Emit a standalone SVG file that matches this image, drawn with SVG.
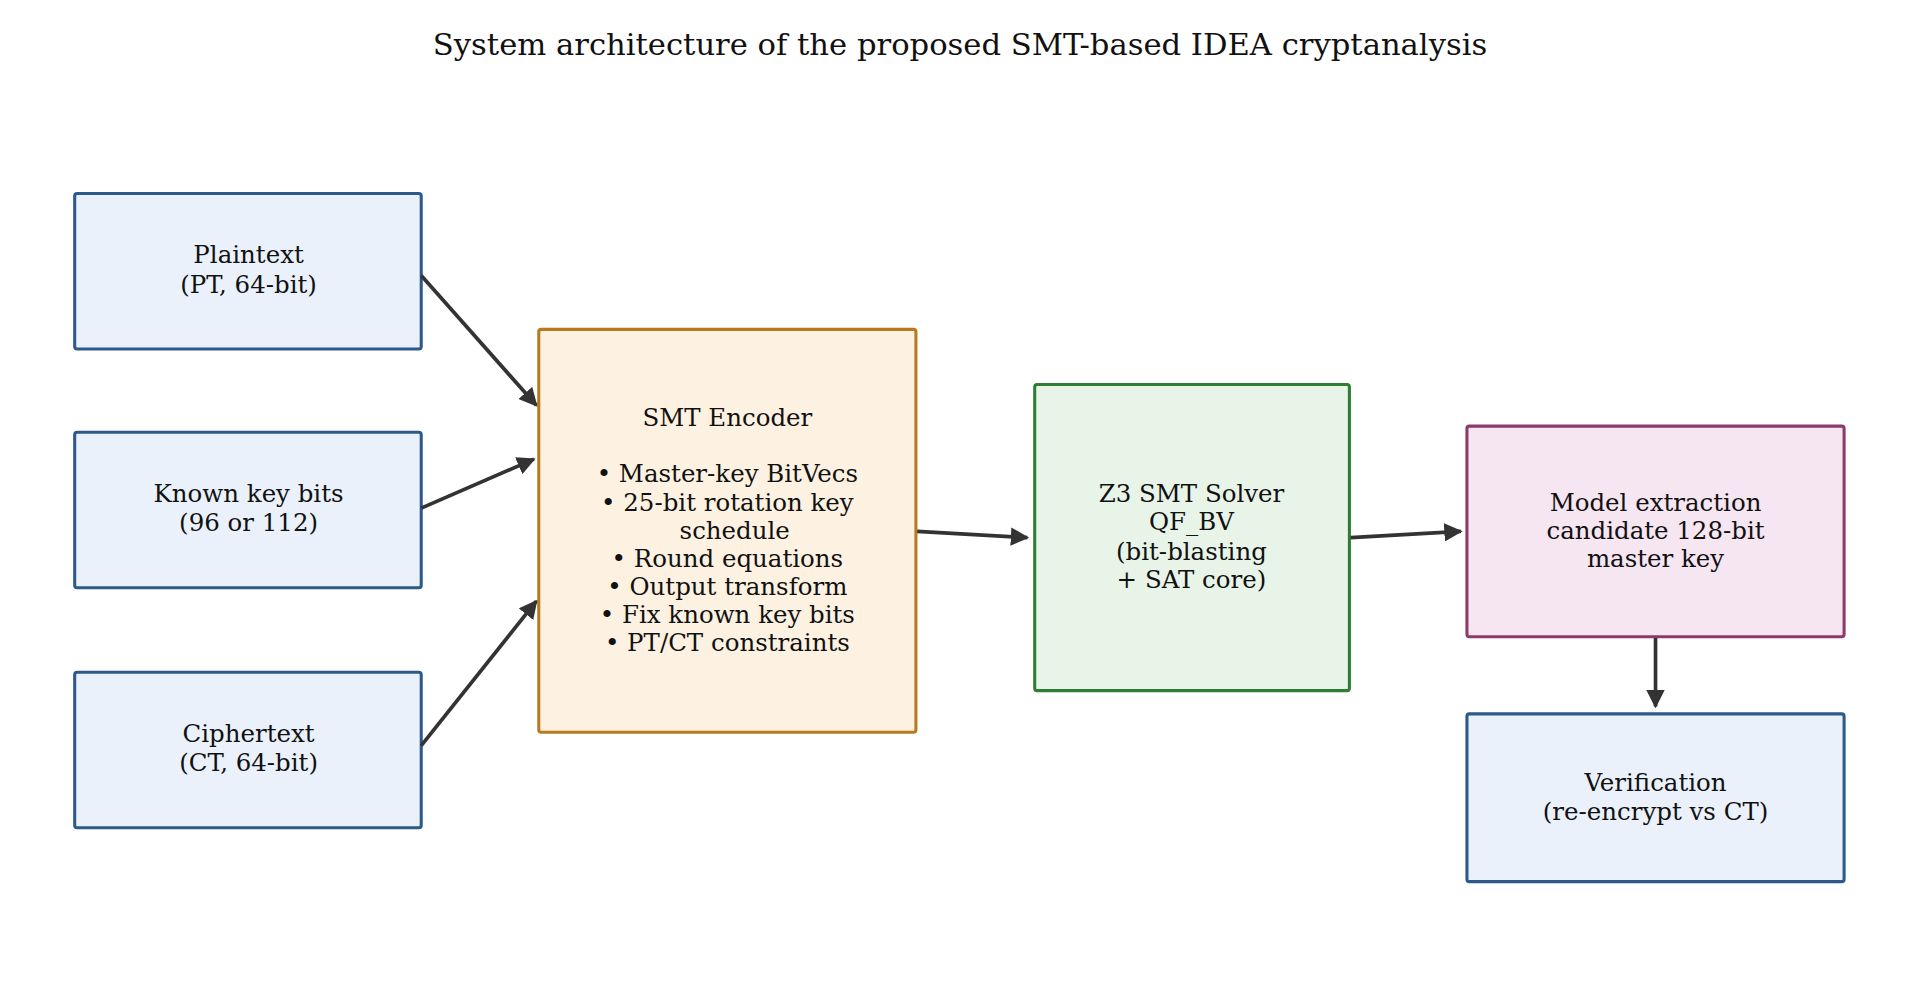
<svg xmlns="http://www.w3.org/2000/svg" width="1920" height="981" viewBox="0 0 1920 981">
<style>
text{font-family:"DejaVu Serif","Liberation Serif",serif;font-size:20px;fill:#111;text-anchor:middle}
.t{font-size:25px}
rect{stroke-width:2.5}
.b{fill:#eaf1fb;stroke:#2b5a8a}
.o{fill:#fdf2e2;stroke:#b87a1e}
.g{fill:#e8f4e8;stroke:#2e7d32}
.p{fill:#f6e6f1;stroke:#8b3a6b}
.c line{stroke:#333;stroke-width:3;marker-end:url(#a)}
</style>
<defs><marker id="a" viewBox="0 0 10 10" refX="9" refY="5" markerWidth="5" markerHeight="5" orient="auto" markerUnits="strokeWidth"><path d="M0,0L10,5L0,10z" fill="#333"/></marker></defs>
<rect width="1920" height="981" fill="#fff"/>
<g transform="scale(1.2245)">
<text class="t" x="784" y="45">System architecture of the proposed SMT-based IDEA cryptanalysis</text>
<g id="plaintext"><rect class="b" x="61" y="158" width="283" height="127" rx="2"/><text x="203" y="215">Plaintext</text><text x="203" y="239">(PT, 64-bit)</text></g>
<g id="known"><rect class="b" x="61" y="353" width="283" height="127" rx="2"/><text x="203" y="410">Known key bits</text><text x="203" y="434">(96 or 112)</text></g>
<g id="ciphertext"><rect class="b" x="61" y="549" width="283" height="127" rx="2"/><text x="203" y="606">Ciphertext</text><text x="203" y="630">(CT, 64-bit)</text></g>
<g id="encoder"><rect class="o" x="440" y="269" width="308" height="329" rx="2"/>
<text x="594" y="348">SMT Encoder</text>
<text x="594" y="394">• Master-key BitVecs</text>
<text x="594" y="417">• 25-bit rotation key</text>
<text x="600" y="440">schedule</text>
<text x="594" y="463">• Round equations</text>
<text x="594" y="486">• Output transform</text>
<text x="594" y="509">• Fix known key bits</text>
<text x="594" y="532">• PT/CT constraints</text></g>
<g id="solver"><rect class="g" x="845" y="314" width="257" height="250" rx="2"/>
<text x="973" y="410">Z3 SMT Solver</text><text x="973" y="433">QF_BV</text><text x="973" y="457">(bit-blasting</text><text x="973" y="480">+ SAT core)</text></g>
<g id="model"><rect class="p" x="1198" y="348" width="308" height="172" rx="2"/>
<text x="1352" y="417">Model extraction</text><text x="1352" y="440">candidate 128-bit</text><text x="1352" y="463">master key</text></g>
<g id="verify"><rect class="b" x="1198" y="583" width="308" height="137" rx="2"/>
<text x="1352" y="646">Verification</text><text x="1352" y="670">(re-encrypt vs CT)</text></g>
<g class="c" id="connectors">
<line x1="344" y1="225" x2="438" y2="331"/>
<line x1="344" y1="415" x2="436" y2="375"/>
<line x1="344" y1="609" x2="438" y2="491"/>
<line x1="749" y1="434" x2="839" y2="439"/>
<line x1="1103" y1="439" x2="1193" y2="434"/>
<line x1="1352" y1="521" x2="1352" y2="577"/>
</g>
</g>
</svg>
